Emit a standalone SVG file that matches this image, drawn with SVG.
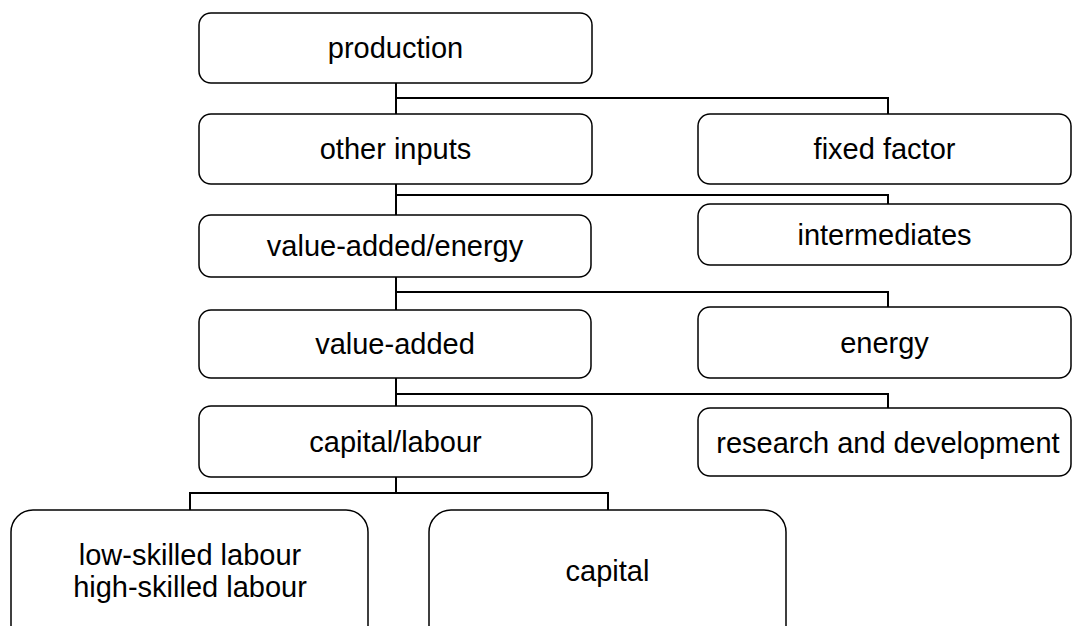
<svg xmlns="http://www.w3.org/2000/svg" width="1072" height="626" viewBox="0 0 1072 626">
<style>
.box{fill:#fff;stroke:#000;stroke-width:1.5}
.lbl{font-family:"Liberation Sans",Arial,sans-serif;font-size:29px;fill:#000;text-anchor:middle}
.con{fill:none;stroke:#000;stroke-width:2}
</style>
<rect width="1072" height="626" fill="#fff"/>
<g id="connectors">
<path class="con" d="M396,83 V114 M396,98 H888 V114"/>
<path class="con" d="M396,184 V215 M396,195 H888 V204"/>
<path class="con" d="M396,277 V310 M396,292 H888 V307"/>
<path class="con" d="M396,378 V406 M396,394 H888 V408"/>
<path class="con" d="M396,477 V493 M190,510 V493 H608 V510"/>
</g>
<g id="production"><rect class="box" x="199" y="13" width="393" height="70" rx="12"/><text class="lbl" x="395.5" y="58">production</text></g>
<g id="other-inputs"><rect class="box" x="199" y="114" width="393" height="70" rx="12"/><text class="lbl" x="395.5" y="159">other inputs</text></g>
<g id="fixed-factor"><rect class="box" x="698" y="114" width="373" height="70" rx="12"/><text class="lbl" x="884.5" y="159">fixed factor</text></g>
<g id="value-added-energy"><rect class="box" x="199" y="215" width="392" height="62" rx="12"/><text class="lbl" x="395" y="256">value-added/energy</text></g>
<g id="intermediates"><rect class="box" x="698" y="204" width="373" height="61" rx="12"/><text class="lbl" x="884.5" y="245">intermediates</text></g>
<g id="value-added"><rect class="box" x="199" y="310" width="392" height="68" rx="12"/><text class="lbl" x="395" y="354">value-added</text></g>
<g id="energy"><rect class="box" x="698" y="307" width="373" height="71" rx="12"/><text class="lbl" x="884.5" y="353">energy</text></g>
<g id="capital-labour"><rect class="box" x="199" y="406" width="393" height="71" rx="12"/><text class="lbl" x="395.5" y="452">capital/labour</text></g>
<g id="research-development"><rect class="box" x="698" y="408" width="373" height="68" rx="12"/><text class="lbl" x="888" y="453">research and development</text></g>
<g id="labour"><rect class="box" x="11" y="510" width="357" height="140" rx="22"/><text class="lbl" x="190" y="565">low-skilled labour</text><text class="lbl" x="190" y="597">high-skilled labour</text></g>
<g id="capital"><rect class="box" x="429" y="510" width="357" height="140" rx="22"/><text class="lbl" x="607.5" y="581">capital</text></g>
</svg>
